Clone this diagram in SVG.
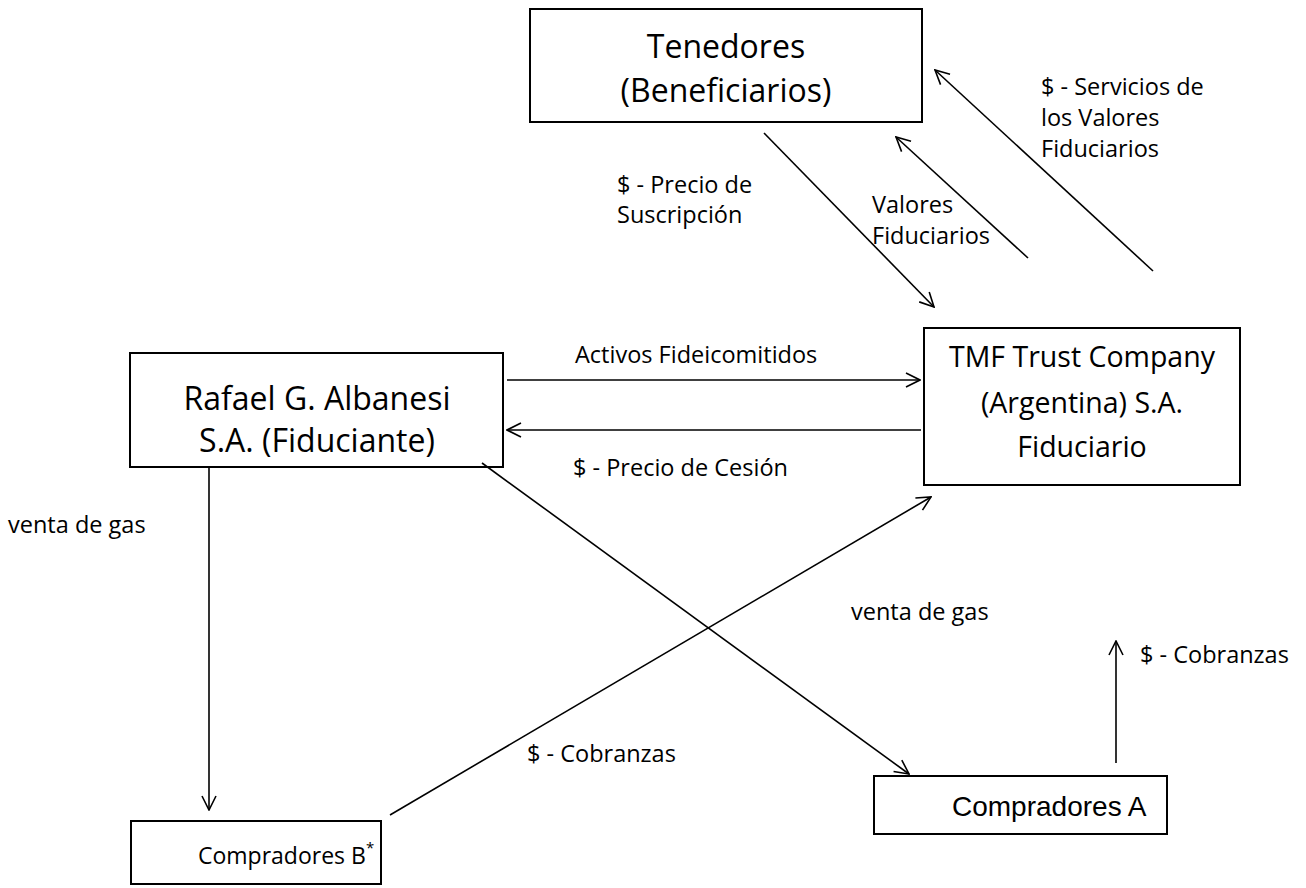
<svg xmlns="http://www.w3.org/2000/svg" width="1306" height="888" viewBox="0 0 1306 888">
<style>
.box{fill:#fff;stroke:#000;stroke-width:2}
.big{font-family:"Open Sans","Noto Sans",sans-serif;font-size:32px;fill:#000;text-anchor:middle}
.lbl{font-family:"Open Sans","Noto Sans",sans-serif;font-size:23.5px;fill:#000}
.arial{font-family:"Liberation Sans",Arial,sans-serif;font-size:28px;fill:#000}
.con{stroke:#000;stroke-width:1.6;fill:none;marker-end:url(#ah)}
</style>
<defs>
<marker id="ah" markerUnits="userSpaceOnUse" viewBox="0 0 16 16" refX="15" refY="8" markerWidth="16" markerHeight="16" orient="auto">
<path d="M1,1 L15,8 L1,15" fill="none" stroke="#000" stroke-width="1.6"/>
</marker>
</defs>
<rect width="1306" height="888" fill="#fff"/>
<g id="tenedores">
<rect class="box" x="530" y="9" width="392" height="113"/>
<text class="big" x="726" y="58">Tenedores</text>
<text class="big" x="726" y="102">(Beneficiarios)</text>
</g>
<g id="rafael">
<rect class="box" x="130" y="353" width="373" height="114"/>
<text class="big" x="317" y="410">Rafael G. Albanesi</text>
<text class="big" x="317" y="452">S.A. (Fiduciante)</text>
</g>
<g id="tmf">
<rect class="box" x="924" y="328" width="316" height="157"/>
<text class="big" x="1082" y="367" style="font-size:28.5px">TMF Trust Company</text>
<text class="big" x="1082" y="413" style="font-size:28.5px">(Argentina) S.A.</text>
<text class="big" x="1082" y="457" style="font-size:28.5px">Fiduciario</text>
</g>
<g id="compradoresB">
<rect class="box" x="131" y="821" width="250" height="63"/>
<text class="big" x="198" y="864" style="font-size:23px;text-anchor:start">Compradores B<tspan dy="-11" font-size="15">*</tspan></text>
</g>
<g id="compradoresA">
<rect class="box" x="874" y="776" width="293" height="58"/>
<text class="arial" x="952" y="816">Compradores A</text>
</g>
<g id="connectors">
<line class="con" x1="764" y1="133" x2="934" y2="307"/>
<line class="con" x1="1028" y1="258" x2="896" y2="137"/>
<line class="con" x1="1153" y1="271" x2="935" y2="70"/>
<line class="con" x1="507" y1="380" x2="920" y2="380"/>
<line class="con" x1="921" y1="430" x2="507" y2="430"/>
<line class="con" x1="209" y1="467" x2="209" y2="810"/>
<line class="con" x1="482" y1="463" x2="909" y2="774"/>
<line class="con" x1="390" y1="815" x2="931" y2="497"/>
<line class="con" x1="1116" y1="763" x2="1116" y2="641"/>
</g>
<g id="labels">
<text class="lbl" x="617" y="193">$ - Precio de</text>
<text class="lbl" x="617" y="223">Suscripción</text>
<text class="lbl" x="872" y="213">Valores</text>
<text class="lbl" x="872" y="244">Fiduciarios</text>
<text class="lbl" x="1041" y="95">$ - Servicios de</text>
<text class="lbl" x="1041" y="126">los Valores</text>
<text class="lbl" x="1041" y="157">Fiduciarios</text>
<text class="lbl" x="575" y="363">Activos Fideicomitidos</text>
<text class="lbl" x="573" y="476">$ - Precio de Cesión</text>
<text class="lbl" x="8" y="533">venta de gas</text>
<text class="lbl" x="851" y="620">venta de gas</text>
<text class="lbl" x="527" y="762">$ - Cobranzas</text>
<text class="lbl" x="1140" y="663">$ - Cobranzas</text>
</g>
</svg>
